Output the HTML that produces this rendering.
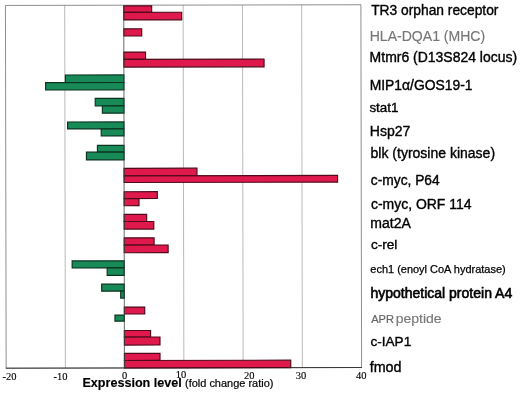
<!DOCTYPE html>
<html><head><meta charset="utf-8"><title>Expression level</title>
<style>
html,body{margin:0;padding:0;background:#fff;}
body{width:520px;height:393px;overflow:hidden;}
svg{display:block;filter:blur(0.3px);}
text{font-family:"Liberation Sans",sans-serif;}
.tk{font-family:"Liberation Serif",serif;font-size:10.5px;fill:#000;stroke:#000;stroke-width:0.12px;}
</style></head><body>
<svg width="520" height="393" viewBox="0 0 520 393">
<rect width="520" height="393" fill="#fff"/>
<g transform="rotate(-0.11 183 186)">

<line x1="65.04" y1="5.1" x2="65.04" y2="367.8" stroke="#8c8c8c" stroke-width="0.6"/>
<line x1="183.5" y1="5.1" x2="183.5" y2="367.8" stroke="#8c8c8c" stroke-width="0.6"/>
<line x1="242.8" y1="5.1" x2="242.8" y2="367.8" stroke="#8c8c8c" stroke-width="0.6"/>
<line x1="302.0" y1="5.1" x2="302.0" y2="367.8" stroke="#8c8c8c" stroke-width="0.6"/>
<rect x="5.8" y="5.1" width="355.45" height="362.75" fill="none" stroke="#686868" stroke-width="0.75"/>
<line x1="5.4" y1="367.85" x2="361.6" y2="367.85" stroke="#262626" stroke-width="0.85"/>
<rect x="124.1" y="5.8" width="27.9" height="6.4" fill="#df194c" stroke="#4e0a1a" stroke-width="1.15"/>
<rect x="124.1" y="12.2" width="57.9" height="7.6" fill="#df194c" stroke="#4e0a1a" stroke-width="1.15"/>
<rect x="124.1" y="28.7" width="17.9" height="7.2" fill="#df194c" stroke="#4e0a1a" stroke-width="1.15"/>
<rect x="124.1" y="52.0" width="21.7" height="7.2" fill="#df194c" stroke="#4e0a1a" stroke-width="1.15"/>
<rect x="124.1" y="59.2" width="140.2" height="7.8" fill="#df194c" stroke="#4e0a1a" stroke-width="1.15"/>
<rect x="65.6" y="74.8" width="58.5" height="7.6" fill="#178a57" stroke="#0b3320" stroke-width="1.15"/>
<rect x="45.8" y="82.4" width="78.3" height="7.3" fill="#178a57" stroke="#0b3320" stroke-width="1.15"/>
<rect x="95.4" y="98.2" width="28.7" height="7.6" fill="#178a57" stroke="#0b3320" stroke-width="1.15"/>
<rect x="102.5" y="105.8" width="21.6" height="7.2" fill="#178a57" stroke="#0b3320" stroke-width="1.15"/>
<rect x="67.7" y="121.8" width="56.4" height="6.9" fill="#178a57" stroke="#0b3320" stroke-width="1.15"/>
<rect x="101.3" y="128.7" width="22.8" height="7.1" fill="#178a57" stroke="#0b3320" stroke-width="1.15"/>
<rect x="97.5" y="145.2" width="26.6" height="6.8" fill="#178a57" stroke="#0b3320" stroke-width="1.15"/>
<rect x="86.5" y="152.0" width="37.6" height="7.7" fill="#178a57" stroke="#0b3320" stroke-width="1.15"/>
<rect x="124.1" y="168.2" width="72.9" height="7.5" fill="#df194c" stroke="#4e0a1a" stroke-width="1.15"/>
<rect x="124.1" y="175.7" width="213.5" height="6.7" fill="#df194c" stroke="#4e0a1a" stroke-width="1.15"/>
<rect x="124.1" y="191.6" width="33.2" height="6.9" fill="#df194c" stroke="#4e0a1a" stroke-width="1.15"/>
<rect x="124.1" y="198.5" width="14.9" height="7.1" fill="#df194c" stroke="#4e0a1a" stroke-width="1.15"/>
<rect x="124.1" y="214.3" width="22.5" height="7.1" fill="#df194c" stroke="#4e0a1a" stroke-width="1.15"/>
<rect x="124.1" y="221.4" width="29.6" height="7.6" fill="#df194c" stroke="#4e0a1a" stroke-width="1.15"/>
<rect x="124.1" y="237.8" width="29.9" height="7.2" fill="#df194c" stroke="#4e0a1a" stroke-width="1.15"/>
<rect x="124.1" y="245.0" width="43.9" height="7.6" fill="#df194c" stroke="#4e0a1a" stroke-width="1.15"/>
<rect x="72.0" y="260.7" width="52.1" height="7.1" fill="#178a57" stroke="#0b3320" stroke-width="1.15"/>
<rect x="107.0" y="267.8" width="17.1" height="7.4" fill="#178a57" stroke="#0b3320" stroke-width="1.15"/>
<rect x="101.5" y="284.0" width="22.6" height="7.0" fill="#178a57" stroke="#0b3320" stroke-width="1.15"/>
<rect x="120.5" y="291.0" width="3.6" height="7.0" fill="#178a57" stroke="#0b3320" stroke-width="1.15"/>
<rect x="124.1" y="307.0" width="20.4" height="6.9" fill="#df194c" stroke="#4e0a1a" stroke-width="1.15"/>
<rect x="114.7" y="315.0" width="9.4" height="6.0" fill="#178a57" stroke="#0b3320" stroke-width="1.15"/>
<rect x="124.1" y="330.4" width="26.2" height="6.6" fill="#df194c" stroke="#4e0a1a" stroke-width="1.15"/>
<rect x="124.1" y="337.0" width="35.6" height="8.0" fill="#df194c" stroke="#4e0a1a" stroke-width="1.15"/>
<rect x="124.1" y="353.3" width="35.6" height="7.1" fill="#df194c" stroke="#4e0a1a" stroke-width="1.15"/>
<rect x="124.1" y="360.4" width="166.3" height="7.4" fill="#df194c" stroke="#4e0a1a" stroke-width="1.15"/>
<line x1="124.1" y1="5.1" x2="124.1" y2="367.8" stroke="#444" stroke-width="0.8"/>
</g>
<text x="371.14" y="15.40" font-size="13.80" fill="#000" stroke="#000" stroke-width="0.36">TR3 orphan receptor</text>
<text x="369.70" y="41.40" font-size="14.05" fill="#777" stroke="#777" stroke-width="0.15">HLA-DQA1 (MHC)</text>
<text x="369.62" y="61.60" font-size="13.97" fill="#000" stroke="#000" stroke-width="0.36">Mtmr6 (D13S824 locus)</text>
<text x="369.64" y="89.50" font-size="13.88" fill="#000" stroke="#000" stroke-width="0.36">MIP1α/GOS19-1</text>
<text x="369.39" y="111.90" font-size="13.37" fill="#000" stroke="#000" stroke-width="0.36">stat1</text>
<text x="369.87" y="136.30" font-size="14.03" fill="#000" stroke="#000" stroke-width="0.36">Hsp27</text>
<text x="370.57" y="158.30" font-size="14.01" fill="#000" stroke="#000" stroke-width="0.36">blk (tyrosine kinase)</text>
<text x="370.83" y="185.40" font-size="13.77" fill="#000" stroke="#000" stroke-width="0.36">c-myc, P64</text>
<text x="370.95" y="208.70" font-size="13.96" fill="#000" stroke="#000" stroke-width="0.36">c-myc, ORF 114</text>
<text x="370.32" y="228.00" font-size="14.03" fill="#000" stroke="#000" stroke-width="0.36">mat2A</text>
<text x="370.88" y="249.20" font-size="13.59" fill="#000" stroke="#000" stroke-width="0.36">c-rel</text>
<text x="370.32" y="272.90" font-size="10.97" fill="#000" stroke="#000" stroke-width="0.25">ech1 (enoyl CoA hydratase)</text>
<text x="370.38" y="298.00" font-size="14.03" fill="#000" stroke="#000" stroke-width="0.6">hypothetical protein A4</text>
<text transform="translate(371.18 323.20) scale(1.0735 1)" font-size="10.3" fill="#666" stroke="#666" stroke-width="0.2">APR</text>
<text transform="translate(395.64 323.20) scale(1.0398 1)" font-size="13.5" fill="#777" stroke="#777" stroke-width="0.15">peptide</text>
<text x="370.48" y="345.50" font-size="13.58" fill="#000" stroke="#000" stroke-width="0.36">c-IAP1</text>
<text x="369.70" y="371.60" font-size="14.32" fill="#000" stroke="#000" stroke-width="0.36">fmod</text>
<text class="tk" x="9.5" y="379.7" text-anchor="middle">-20</text>
<text class="tk" x="60.6" y="379.7" text-anchor="middle">-10</text>
<text class="tk" x="124.7" y="378.6" text-anchor="middle">0</text>
<text class="tk" x="181" y="378.4" text-anchor="middle">10</text>
<text class="tk" x="249.2" y="379.4" text-anchor="middle">20</text>
<text class="tk" x="301" y="379.2" text-anchor="middle">30</text>
<text class="tk" x="361.3" y="379.2" text-anchor="middle">40</text>
<text x="82.4" y="386.5" font-size="12.6" font-weight="bold" fill="#000" stroke="#000" stroke-width="0.15">Expression level</text><text x="185" y="386.5" font-size="10.97" fill="#000" stroke="#000" stroke-width="0.2">(fold change ratio)</text>
</svg></body></html>
